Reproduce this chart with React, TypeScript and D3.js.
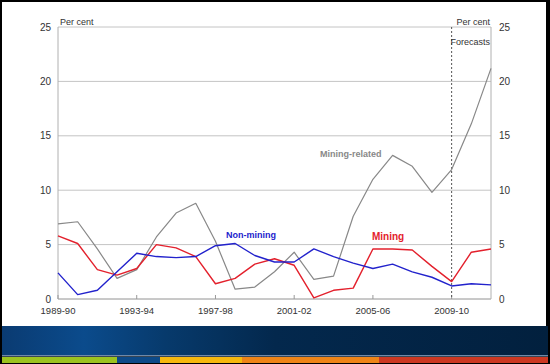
import React from "react";
import * as d3 from "d3";

// financial years, 1989-90 to 2011-12
const years = [
  "1989-90", "1990-91", "1991-92", "1992-93", "1993-94", "1994-95", "1995-96", "1996-97",
  "1997-98", "1998-99", "1999-00", "2000-01", "2001-02", "2002-03", "2003-04", "2004-05",
  "2005-06", "2006-07", "2007-08", "2008-09", "2009-10", "2010-11", "2011-12",
];
const tickYears = ["1989-90", "1993-94", "1997-98", "2001-02", "2005-06", "2009-10"];
const yTicks = [0, 5, 10, 15, 20, 25];

const miningRelated = [6.9, 7.1, 4.6, 1.9, 2.7, 5.7, 7.9, 8.8, 5.3, 0.9, 1.1, 2.5, 4.3, 1.8, 2.1, 7.6, 11.0, 13.2, 12.2, 9.8, 11.9, 16.1, 21.2];
const mining = [5.8, 5.1, 2.7, 2.2, 2.8, 5.0, 4.7, 3.9, 1.4, 1.9, 3.2, 3.7, 3.1, 0.1, 0.8, 1.0, 4.6, 4.6, 4.5, 3.0, 1.6, 4.3, 4.6];
const nonMining = [2.4, 0.4, 0.8, 2.5, 4.2, 3.9, 3.8, 3.9, 4.9, 5.1, 4.0, 3.4, 3.4, 4.6, 3.9, 3.3, 2.8, 3.2, 2.5, 2.0, 1.2, 1.4, 1.3];
const forecastStart = "2009-10";

const stripes = [
  { from: 0, to: 117, color: "#9bc31f" },
  { from: 117, to: 160, color: "#0d4a88" },
  { from: 160, to: 242, color: "#f6b80e" },
  { from: 242, to: 379, color: "#ee8417" },
  { from: 379, to: 550, color: "#cc3822" },
];

const font = "Arial, 'Liberation Sans', sans-serif";

export default function App() {
  const W = 550;
  const H = 364;
  const left = 58;
  const right = 491;
  const top = 27;
  const bottom = 299;

  const x = d3.scalePoint<string>().domain(years).range([left, right]);
  const y = d3.scaleLinear().domain([0, 25]).range([bottom, top]);

  const line = d3
    .line<number>()
    .x((_, i) => x(years[i]) as number)
    .y((d) => y(d));

  const series = [
    { values: miningRelated, color: "#888888", width: 1.2 },
    { values: mining, color: "#e3202c", width: 1.4 },
    { values: nonMining, color: "#2222cc", width: 1.4 },
  ];

  const fx = x(forecastStart) as number;

  return (
    <svg
      width={W}
      height={H}
      style={{ position: "absolute", left: 0, top: 0 }}
      fontFamily={font}
    >
      <defs>
        <linearGradient id="band" x1="0" x2="1" y1="0" y2="0">
          <stop offset="0%" stopColor="#0a3b72" />
          <stop offset="15%" stopColor="#0b4b8c" />
          <stop offset="30%" stopColor="#073a6c" />
          <stop offset="50%" stopColor="#03284d" />
          <stop offset="100%" stopColor="#02203e" />
        </linearGradient>
      </defs>
      <rect x={0} y={0} width={W} height={H} fill="#000" />
      <rect x={2} y={2} width={544} height={324} fill="#fff" />

      {/* bottom band */}
      <rect x={2} y={326} width={546} height={30} fill="url(#band)" />
      <rect x={2} y={355} width={546} height={1.5} fill="#6f89a8" />
      {stripes.map((s, i) => (
        <rect key={i} x={Math.max(s.from, 2)} y={357} width={Math.min(s.to, 548) - Math.max(s.from, 2)} height={6} fill={s.color} />
      ))}

      {/* grid */}
      {yTicks.map((t) => (
        <line key={t} x1={left} x2={right} y1={y(t)} y2={y(t)} stroke="#c4c4c4" strokeWidth={1} />
      ))}
      <line x1={left} x2={left} y1={top} y2={bottom} stroke="#b0b0b0" />
      <line x1={right} x2={right} y1={top} y2={bottom} stroke="#b0b0b0" />
      <line x1={left} x2={right} y1={bottom} y2={bottom} stroke="#b0b0b0" />
      {tickYears.map((t) => (
        <line key={t} x1={x(t)} x2={x(t)} y1={bottom} y2={bottom - 4} stroke="#999" />
      ))}

      {/* forecast divider */}
      <line x1={fx} x2={fx} y1={top} y2={bottom} stroke="#555" strokeDasharray="2,2" strokeWidth={1} />
      <text x={right - 1} y={45} textAnchor="end" fontSize={9} fill="#333">Forecasts</text>

      {/* y axis labels */}
      {yTicks.map((t) => (
        <text key={"l" + t} x={51} y={y(t) + 3.5} textAnchor="end" fontSize={10} fill="#333">{t}</text>
      ))}
      {yTicks.map((t) => (
        <text key={"r" + t} x={499} y={y(t) + 3.5} textAnchor="start" fontSize={10} fill="#333">{t}</text>
      ))}
      <text x={left + 2} y={top - 2} fontSize={9} fill="#333">Per cent</text>
      <text x={right - 1} y={top - 2} fontSize={9} fill="#333" textAnchor="end">Per cent</text>

      {/* x axis labels */}
      {tickYears.map((t) => (
        <text key={t} x={x(t)} y={314} textAnchor="middle" fontSize={9.5} fill="#333">{t}</text>
      ))}

      {series.map((s, i) => (
        <path key={i} d={line(s.values) as string} fill="none" stroke={s.color} strokeWidth={s.width} strokeLinejoin="round" />
      ))}

      <text x={226} y={238} fontSize={9} fontWeight="bold" fill="#2222cc">Non-mining</text>
      <text x={372} y={240} fontSize={10} fontWeight="bold" fill="#e3202c">Mining</text>
      <text x={320} y={157} fontSize={9} fontWeight="bold" fill="#888888">Mining-related</text>
    </svg>
  );
}
